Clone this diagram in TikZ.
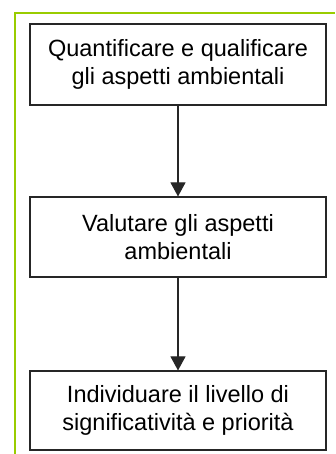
\documentclass[tikz,border=0pt]{standalone}
\usepackage{fontspec}
\setmainfont{Liberation Sans}
\usetikzlibrary{arrows.meta}
\definecolor{framegreen}{HTML}{99CC00}
\definecolor{inkgray}{HTML}{262626}
\begin{document}
\begin{tikzpicture}[x=1pt,y=1pt,
  stepbox/.style={draw=inkgray, line width=1.1pt, minimum width=296pt,
    inner sep=0pt, align=center,
    font=\fontsize{23.5}{28}\selectfont},
  flow/.style={draw=inkgray, line width=1.1pt,
    -{Triangle[length=14pt,width=15pt]}}]
\useasboundingbox (0,0) rectangle (335,454);
% green outer frame (open on the right and bottom)
\draw[framegreen, line width=1.6pt] (15,0) -- (15,441) -- (335,441);
% process steps
\node[stepbox, minimum height=81pt] (quant) at (178,389.5)
  {Quantificare e qualificare\\gli aspetti ambientali};
\node[stepbox, minimum height=80pt] (valut) at (178,217)
  {Valutare gli aspetti\\ambientali};
\node[stepbox, minimum height=79pt] (indiv) at (178,43.5)
  {Individuare il livello di\\significatività e priorità};
% connectors
\draw[flow] (quant) -- (valut);
\draw[flow] (valut) -- (indiv);
\end{tikzpicture}
\end{document}
